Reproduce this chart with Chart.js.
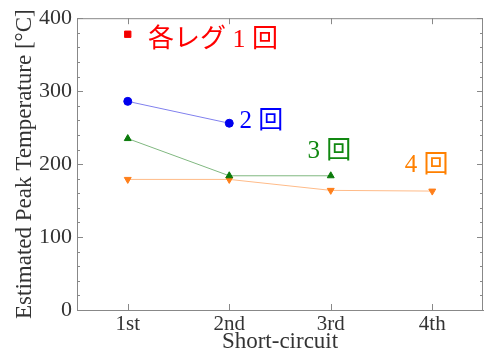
<!DOCTYPE html>
<html><head><meta charset="utf-8">
<script src="https://cdn.jsdelivr.net/npm/chart.js@4"></script>
<style>html,body{margin:0;padding:0;background:#fff}#wrap{width:484px;height:356px}</style>
</head><body><div id="wrap"><canvas id="c" width="484" height="356"></canvas></div>
<script>
const categories = ["1st", "2nd", "3rd", "4th"];
const leg1 = [378, null, null, null];
const leg2 = [286, 256, null, null];
const leg3 = [235, 184, 184, null];
const leg4 = [179, 179, 164, 163];
const yTicks = [0, 100, 200, 300, 400];
const seriesLabels = ["各レグ 1 回", "2 回", "3 回", "4 回"];
// label anchors in data space: [category index, value]
const labelAnchors = [[0.2, 370], [1.1, 258], [1.77, 217], [2.73, 198]];
const labelSizes = [26, 25, 25, 25];
const labelColors = ["#ff0000", "#0000ff", "#118811", "#ff8000"];

const SERIF = '"Liberation Serif", "Noto Sans CJK JP", serif';

const extras = {
  id: 'extras',
  afterDraw(chart) {
    const ctx = chart.ctx, a = chart.chartArea;
    const xs = chart.scales.x, ys = chart.scales.y;
    ctx.save();
    ctx.strokeStyle = '#888';
    ctx.lineWidth = 1;
    ctx.beginPath();
    ctx.moveTo(a.left, a.top + 0.5); ctx.lineTo(a.right, a.top + 0.5);
    ctx.moveTo(a.right - 0.5, a.top); ctx.lineTo(a.right - 0.5, a.bottom);
    for (let v = 0; v <= 400; v += 20) {
      const y = Math.round(ys.getPixelForValue(v)) + 0.5;
      const len = v % 100 === 0 ? 6 : 3;
      ctx.moveTo(a.left, y); ctx.lineTo(a.left + len, y);
      ctx.moveTo(a.right, y); ctx.lineTo(a.right - len, y);
    }
    for (let i = 0; i < categories.length; i++) {
      const x = Math.round(xs.getPixelForValue(i)) + 0.5;
      ctx.moveTo(x, a.bottom); ctx.lineTo(x, a.bottom - 6);
      ctx.moveTo(x, a.top); ctx.lineTo(x, a.top + 6);
    }
    ctx.stroke();
    ctx.textBaseline = 'middle';
    ctx.textAlign = 'left';
    seriesLabels.forEach((t, i) => {
      const [ci, v] = labelAnchors[i];
      const px = xs.getPixelForValue(0) + ci * (xs.getPixelForValue(1) - xs.getPixelForValue(0));
      ctx.font = labelSizes[i] + 'px ' + SERIF;
      ctx.fillStyle = labelColors[i];
      ctx.fillText(t, px, ys.getPixelForValue(v));
    });
    ctx.restore();
  }
};

new Chart(document.getElementById('c'), {
  type: 'line',
  data: {
    labels: categories,
    datasets: [
      { data: leg1, borderColor: '#ff0000', backgroundColor: '#ee0000', pointStyle: 'rect', pointRadius: 4.5, showLine: false },
      { data: leg2, borderColor: '#8080ee', backgroundColor: '#0000ee', pointBorderColor: '#0000ee', pointStyle: 'circle', pointRadius: 4, borderWidth: 1 },
      { data: leg3, borderColor: '#80b880', backgroundColor: '#0a7a0a', pointBorderColor: '#0a7a0a', pointStyle: 'triangle', pointRadius: 4, borderWidth: 1 },
      { data: leg4, borderColor: '#ffbb88', backgroundColor: '#ff7f1a', pointBorderColor: '#ff7f1a', pointStyle: 'triangle', rotation: 180, pointRadius: 4, borderWidth: 1 }
    ]
  },
  options: {
    responsive: false,
    animation: false,
    spanGaps: false,
    layout: { autoPadding: false, padding: { top: 18, right: 1, left: 0, bottom: 0 } },
    plugins: { legend: { display: false }, tooltip: { enabled: false } },
    scales: {
      x: {
        offset: true,
        grid: { display: false, drawTicks: false },
        border: { display: true, color: '#888' },
        ticks: { color: '#333', font: { family: SERIF, size: 21 }, padding: 2 },
        title: { display: true, text: 'Short-circuit', color: '#333', font: { family: SERIF, size: 23 }, padding: { top: -2, bottom: 0 } },
        afterFit(s) { s.height = 46; }
      },
      y: {
        min: 0, max: 400,
        afterBuildTicks(s) { s.ticks = yTicks.map(v => ({ value: v })); },
        grid: { display: false, drawTicks: false },
        border: { display: true, color: '#888' },
        ticks: { color: '#333', font: { family: SERIF, size: 22 }, padding: 5 },
        title: { display: true, text: 'Estimated Peak Temperature [°C]', color: '#333', font: { family: SERIF, size: 23 }, padding: { top: 11, bottom: 2 } },
        afterFit(s) { s.width = 77; }
      }
    }
  },
  plugins: [extras]
});
</script></body></html>
